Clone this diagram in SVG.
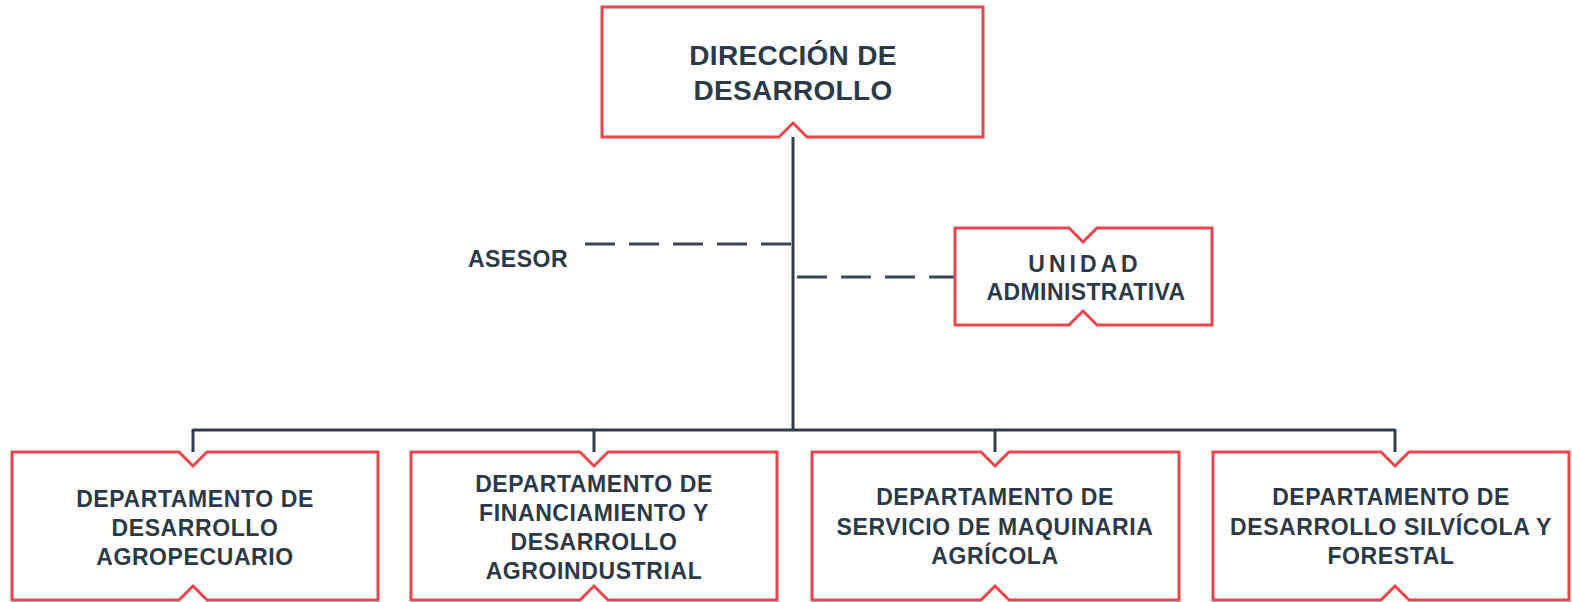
<svg xmlns="http://www.w3.org/2000/svg" width="1572" height="602" viewBox="0 0 1572 602">
<style>
.box{fill:#ffffff;stroke:#e8454c;stroke-width:3;stroke-linejoin:miter}
.ln{fill:none;stroke:#2f3d4c;stroke-width:3}
.dash{fill:none;stroke:#3a4656;stroke-width:3;stroke-dasharray:30 14}
text{font-family:"Liberation Sans",Arial,sans-serif;font-weight:bold;fill:#2c3a48;text-anchor:middle}
.t28{font-size:28px;letter-spacing:0.3px}
.t22{font-size:23px;letter-spacing:0.6px}
</style>
<rect width="1572" height="602" fill="#ffffff"/>
<g id="connectors">
<path class="ln" d="M793,137 V430 M193,430 H1395 M193,429 V452 M594,430 V452 M995,430 V452 M1395,429 V452"/>
<path class="dash" d="M585,244 H793"/>
<path class="dash" d="M797,277 H955"/>
</g>
<g id="direccion">
<path class="box" d="M602,7 H983 V137 H807 L793,123 L779,137 H602 Z"/>
<text class="t28" x="793" y="65">DIRECCIÓN DE</text>
<text class="t28" x="793" y="100">DESARROLLO</text>
</g>
<text id="asesor" x="518" y="267" style="font-size:23px;letter-spacing:0.5px">ASESOR</text>
<g id="unidad">
<path class="box" d="M955,228 H1069 L1083,242 L1097,228 H1212 V325 H1097 L1083,311 L1069,325 H955 Z"/>
<text class="t22" x="1085" y="272" style="letter-spacing:4px">UNIDAD</text>
<text class="t22" x="1086" y="300" style="letter-spacing:0.4px">ADMINISTRATIVA</text>
</g>
<g id="dep1">
<path class="box" d="M12,452 H179 L193,466 L207,452 H378 V600 H207 L193,586 L179,600 H12 Z"/>
<text class="t22" x="195" y="507">DEPARTAMENTO DE</text>
<text class="t22" x="195" y="536">DESARROLLO</text>
<text class="t22" x="195" y="565">AGROPECUARIO</text>
</g>
<g id="dep2">
<path class="box" d="M411,452 H580 L594,466 L608,452 H777 V600 H608 L594,586 L580,600 H411 Z"/>
<text class="t22" x="594" y="492">DEPARTAMENTO DE</text>
<text class="t22" x="594" y="521">FINANCIAMIENTO Y</text>
<text class="t22" x="594" y="550">DESARROLLO</text>
<text class="t22" x="594" y="579">AGROINDUSTRIAL</text>
</g>
<g id="dep3">
<path class="box" d="M812,452 H981 L995,466 L1009,452 H1179 V600 H1009 L995,586 L981,600 H812 Z"/>
<text class="t22" x="995" y="505">DEPARTAMENTO DE</text>
<text class="t22" x="995" y="535">SERVICIO DE MAQUINARIA</text>
<text class="t22" x="995" y="564">AGRÍCOLA</text>
</g>
<g id="dep4">
<path class="box" d="M1213,452 H1381 L1395,466 L1409,452 H1569 V600 H1409 L1395,586 L1381,600 H1213 Z"/>
<text class="t22" x="1391" y="505">DEPARTAMENTO DE</text>
<text class="t22" x="1391" y="535">DESARROLLO SILVÍCOLA Y</text>
<text class="t22" x="1391" y="564">FORESTAL</text>
</g>
</svg>
